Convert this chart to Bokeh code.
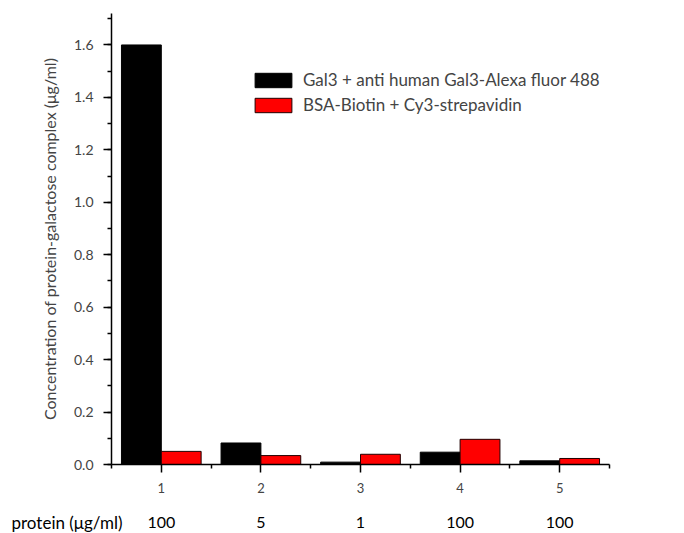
from bokeh.plotting import figure
from bokeh.layouts import column
from bokeh.models import (Range1d, FixedTicker, LinearAxis, Legend, LegendItem,
                          ColumnDataSource, CustomJSTickFormatter)
from bokeh.core.properties import value
from bokeh.embed import file_html
from bokeh.resources import INLINE

samples = [1, 2, 3, 4, 5]
gal3 = [1.60, 0.082, 0.009, 0.047, 0.014]
bsa = [0.050, 0.034, 0.039, 0.096, 0.023]
protein_conc = ["100", "5", "1", "100", "100"]
series_names = ["Gal3 + anti human Gal3-Alexa fluor 488", "BSA-Biotin + Cy3-strepavidin"]
y_label = "Concentration of protein-galactose complex (μg/ml)"
row_label = "protein (μg/ml)"

FONT = "Lato"
W = 684
H_MAIN = 505
H_ROW = 28
L, R, T, B = 111, 75, 13, 41
X0, X1 = 0.5, 5.5

p = figure(width=W, height=H_MAIN, output_backend="svg", toolbar_location=None,
           x_range=Range1d(X0, X1), y_range=Range1d(0, 1.72),
           min_border_left=L, min_border_right=R, min_border_top=T, min_border_bottom=B,
           x_axis_location=None, y_axis_location=None)
p.frame_align = False
p.outline_line_color = None
p.xgrid.visible = False
p.ygrid.visible = False

src = ColumnDataSource(dict(x1=[s - 0.2 for s in samples], x2=[s + 0.2 for s in samples],
                            g=gal3, b=bsa))
r1 = p.vbar(x="x1", top="g", width=0.4, source=src, fill_color="black", line_color="black", line_width=1)
r2 = p.vbar(x="x2", top="b", width=0.4, source=src, fill_color="#ff0000", line_color="#200000", line_width=1)

yax = LinearAxis(ticker=FixedTicker(ticks=[0, 0.2, 0.4, 0.6, 0.8, 1.0, 1.2, 1.4, 1.6],
                                    minor_ticks=[round(0.1 * i, 1) for i in range(18)]))
yax.axis_label = y_label
yax.axis_label_text_font = FONT
yax.axis_label_text_font_size = "16px"
yax.axis_label_text_font_style = "normal"
yax.axis_label_standoff = 12
yax.major_label_text_font = FONT
yax.major_label_text_font_size = "14px"
yax.major_tick_out = 8
yax.major_tick_in = 0
yax.minor_tick_out = 4
yax.minor_tick_in = 0
yax.axis_line_width = 1.5
yax.major_tick_line_width = 1.5
yax.minor_tick_line_width = 1.5
yax.major_label_standoff = 10
yax.formatter = CustomJSTickFormatter(code="return tick.toFixed(1)")
p.add_layout(yax, "left")

xax = LinearAxis(ticker=FixedTicker(ticks=samples, minor_ticks=[0.5, 1.5, 2.5, 3.5, 4.5, 5.5]))
xax.major_label_text_font = FONT
xax.major_label_text_font_size = "13px"
xax.major_tick_out = 8
xax.major_tick_in = 0
xax.minor_tick_out = 4
xax.minor_tick_in = 0
xax.axis_line_width = 1.5
xax.major_tick_line_width = 1.5
xax.minor_tick_line_width = 1.5
xax.major_label_standoff = 10
p.add_layout(xax, "below")

legend = Legend(items=[LegendItem(label=series_names[0], renderers=[r1]),
                       LegendItem(label=series_names[1], renderers=[r2])],
                location=(139, 349), padding=0, margin=0, spacing=4,
                glyph_width=46, glyph_height=18, label_height=20, label_standoff=7,
                label_text_font=FONT, label_text_font_size="17px",
                background_fill_alpha=0, border_line_color=None)
p.add_layout(legend)

# bottom row: protein concentration per sample, on the same x scale as the bars
ppu = (W - L - R) / (X1 - X0)
q = figure(width=W, height=H_ROW, output_backend="svg", toolbar_location=None,
           x_range=Range1d(X0 - L / ppu, X1 + R / ppu), y_range=Range1d(0, 1),
           min_border=0, min_border_left=0, min_border_right=0, min_border_top=0, min_border_bottom=0,
           x_axis_location=None, y_axis_location=None)
q.frame_align = False
q.outline_line_color = None
q.xgrid.visible = False
q.ygrid.visible = False
q.text(x=samples, y=[0.4] * len(samples), text=protein_conc, text_align="center",
       text_baseline="middle", text_font=value(FONT), text_font_size="16px", text_color="black")
q.text(x=[X0 - (L - 11) / ppu], y=[0.4], text=[row_label], text_align="left",
       text_baseline="middle", text_font=value(FONT), text_font_size="17px", text_color="black")

layout = column(p, q, spacing=0)
open("out.html", "w").write(file_html(layout, INLINE))
